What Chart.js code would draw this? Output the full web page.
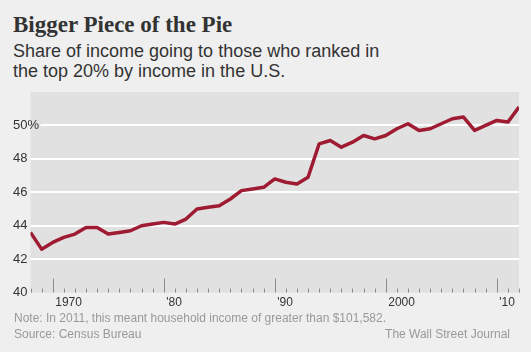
<!DOCTYPE html>
<html>
<head>
<meta charset="utf-8">
<script src="https://cdn.jsdelivr.net/npm/chart.js@4/dist/chart.umd.min.js"></script>
<style>
  html, body { margin: 0; padding: 0; }
  body { width: 531px; height: 352px; background: #efefef; position: relative; overflow: hidden; font-family: "Liberation Sans", Arial, sans-serif; color: #333; }
  .title { position: absolute; left: 13px; top: 12px; font-family: "Liberation Serif", serif; font-weight: bold; font-size: 23px; line-height: 26px; color: #333; white-space: nowrap; }
  .sub { position: absolute; left: 13px; top: 41px; font-size: 18px; line-height: 20px; color: #333; white-space: nowrap; }
  .note { position: absolute; left: 14px; font-size: 12px; line-height: 14px; color: #999; white-space: nowrap; }
  .credit { position: absolute; right: 21px; font-size: 12px; line-height: 14px; color: #999; white-space: nowrap; }
  #wrap { position: absolute; left: 0; top: 85px; width: 531px; height: 230px; }
</style>
</head>
<body>
<div class="title">Bigger Piece of the Pie</div>
<div class="sub">Share of income going to those who ranked in<br>the top 20% by income in the U.S.</div>
<div id="wrap"><canvas id="chart"></canvas></div>
<div class="note" style="top:311px">Note: In 2011, this meant household income of greater than $101,582.</div>
<div class="note" style="top:327px">Source: Census Bureau</div>
<div class="credit" style="top:327px">The Wall Street Journal</div>
<script>
// --- Data ---
const years = [];
for (let y = 1967; y <= 2011; y++) years.push(y);

const topFifthShare = [
    43.6, 42.6, 43.0, 43.3, 43.5, 43.9, 43.9, 43.5, 43.6, 43.7,   // 1967-1976
    44.0, 44.1, 44.2, 44.1, 44.4, 45.0, 45.1, 45.2, 45.6, 46.1,   // 1977-1986
    46.2, 46.3, 46.8, 46.6, 46.5, 46.9, 48.9, 49.1, 48.7, 49.0,   // 1987-1996
    49.4, 49.2, 49.4, 49.8, 50.1, 49.7, 49.8, 50.1, 50.4, 50.5,   // 1997-2006
    49.7, 50.0, 50.3, 50.2, 51.1                                  // 2007-2011
];

const yTickValues = [40, 42, 44, 46, 48, 50];
const yTickLabels = ['40', '42', '44', '46', '48', '50%'];

// the decade marks sit one point in from the round year on the original
const decadeTickYears = [1969, 1979, 1989, 1999, 2009];
const decadeTickLabels = ['1970', "'80", "'90", '2000', "'10"];

const PLOT_BG = '#e1e1e1';
const LINE_RED = '#9e1b32';
const Y_LABEL_X = 13;

// grey panel, white gridlines (start after the label) and year ticks
const panelPlugin = {
    id: 'panel',
    beforeDraw(chart) {
        const { ctx, chartArea: a } = chart;
        ctx.save();
        ctx.fillStyle = PLOT_BG;
        ctx.fillRect(a.left, a.top, a.right - a.left, a.bottom - a.top);
        ctx.restore();
    },
    beforeDatasetsDraw(chart) {
        const { ctx, chartArea: a, scales } = chart;
        const ys = scales.y, xs = scales.x;
        ctx.save();
        ctx.font = '13px "Liberation Sans", Arial, sans-serif';
        ctx.strokeStyle = '#ffffff';
        ctx.lineWidth = 2;
        yTickValues.forEach((v, i) => {
            if (v === 40) return;
            const py = Math.round(ys.getPixelForValue(v));
            const labelEnd = Y_LABEL_X + ctx.measureText(yTickLabels[i]).width + 1.5;
            const x0 = Math.max(a.left, labelEnd);
            ctx.beginPath();
            ctx.moveTo(x0, py);
            ctx.lineTo(a.right, py);
            ctx.stroke();
        });
        ctx.strokeStyle = '#8c8c8c';
        ctx.lineWidth = 1;
        years.forEach(yr => {
            const px = Math.round(xs.getPixelForValue(yr)) + 0.5;
            const len = decadeTickYears.includes(yr) ? 14 : 4;
            ctx.beginPath();
            ctx.moveTo(px, a.bottom);
            ctx.lineTo(px, a.bottom - len);
            ctx.stroke();
        });
        ctx.restore();
    }
};

new Chart(document.getElementById('chart'), {
    type: 'line',
    data: {
        datasets: [{
            data: years.map((yr, i) => ({ x: yr, y: topFifthShare[i] })),
            borderColor: LINE_RED,
            borderWidth: 3.5,
            borderJoinStyle: 'round',
            pointRadius: 0,
            tension: 0,
            fill: false
        }]
    },
    options: {
        responsive: true,
        maintainAspectRatio: false,
        animation: false,
        layout: { padding: { left: 13, right: 12, top: 7, bottom: 0 } },
        plugins: { legend: { display: false }, tooltip: { enabled: false } },
        scales: {
            x: {
                type: 'linear',
                min: 1967,
                max: 2011,
                afterBuildTicks: scale => { scale.ticks = decadeTickYears.map(v => ({ value: v })); },
                afterFit: scale => { scale.height = 22.4; },
                grid: { display: false, drawTicks: false },
                border: { display: false },
                ticks: {
                    autoSkip: false,
                    maxRotation: 0,
                    align: 'start',
                    labelOffset: 2.5,
                    padding: 3,
                    color: '#333',
                    font: { family: '"Liberation Sans", Arial, sans-serif', size: 12 },
                    callback: v => decadeTickLabels[decadeTickYears.indexOf(v)]
                }
            },
            y: {
                min: 40,
                max: 52,
                afterBuildTicks: scale => { scale.ticks = yTickValues.map(v => ({ value: v })); },
                afterFit: scale => { scale.width = 17.5; },
                grid: { display: false, drawTicks: false },
                border: { display: false },
                ticks: {
                    // mirrored so "50%" is not clipped at the panel edge
                    mirror: true,
                    crossAlign: 'near',
                    padding: -17.5,
                    color: '#333',
                    font: { family: '"Liberation Sans", Arial, sans-serif', size: 13 },
                    callback: v => yTickLabels[yTickValues.indexOf(v)]
                }
            }
        }
    },
    plugins: [panelPlugin]
});
</script>
</body>
</html>
